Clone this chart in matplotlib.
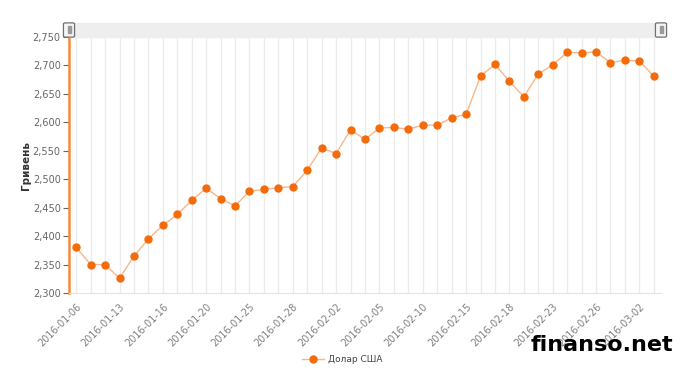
import numpy as np
import matplotlib.pyplot as plt
from matplotlib.patches import FancyBboxPatch, Rectangle

# exchange rate values, one per trading day
values = [2380, 2350, 2350, 2326, 2365, 2395, 2419, 2438, 2463, 2484,
          2466, 2453, 2479, 2482, 2485, 2487, 2516, 2555, 2545, 2587,
          2570, 2590, 2591, 2588, 2595, 2595, 2608, 2614, 2681, 2702,
          2672, 2645, 2685, 2701, 2723, 2722, 2724, 2705, 2709, 2708,
          2681]
tick_labels = ["2016-01-06", "2016-01-13", "2016-01-16", "2016-01-20",
               "2016-01-25", "2016-01-28", "2016-02-02", "2016-02-05",
               "2016-02-10", "2016-02-15", "2016-02-18", "2016-02-23",
               "2016-02-26", "2016-03-02"]
y_ticks = [2300, 2350, 2400, 2450, 2500, 2550, 2600, 2650, 2700, 2750]
series_name = "Долар США"
y_title = "Гривень"

x = np.arange(len(values))

fig = plt.figure(figsize=(6.88, 3.73), dpi=100)
ax = fig.add_axes([69/688, 80/373, 592/688, 256/373])

# light vertical grid at every point
for xi in x:
    ax.axvline(xi, color="#ebebeb", lw=0.9, zorder=0)

ax.plot(x, values, color="#f9b68a", lw=1.0, zorder=2)
ax.plot(x, values, "o", color="#f56b0a", markersize=5, zorder=3)

ax.set_xlim(-0.5, len(values) - 0.5)
ax.set_ylim(2300, 2750)
ax.set_yticks(y_ticks)
ax.set_yticklabels(["{:,}".format(v) for v in y_ticks])
ax.set_xticks(x[::3])
ax.set_xticklabels(tick_labels, rotation=45, ha="right", rotation_mode="anchor")

ax.tick_params(axis="y", colors="#666666", labelsize=7, length=4, width=0.8, pad=2)
ax.tick_params(axis="x", colors="#808080", labelsize=7, length=0, pad=6)

for s in ["top", "right"]:
    ax.spines[s].set_visible(False)
ax.spines["bottom"].set_color("#e3e3e3")
ax.spines["left"].set_color("#f58a3a")
ax.spines["left"].set_linewidth(1.8)

fig.text(26/688, 1 - 165/373, y_title, rotation=90, fontsize=7.5,
         fontweight="bold", color="#333333", ha="center", va="center")

# scrollbar band on top
fig.patches.append(Rectangle((69/688, 1 - 37/373), 592/688, 14/373,
                             transform=fig.transFigure, color="#eeeeee", zorder=0))
for hx in [69, 661]:
    fig.patches.append(FancyBboxPatch((hx/688 - 3.5/688, 1 - 36/373), 7/688, 12/373,
                                      boxstyle="round,pad=0.003",
                                      transform=fig.transFigure,
                                      facecolor="#f4f4f4", edgecolor="#707070", lw=0.9))
    fig.patches.append(Rectangle((hx/688 - 1.5/688, 1 - 33/373), 3/688, 7/373,
                                 transform=fig.transFigure, color="#9a9a9a"))

# legend
lx, ly = 313/688, 1 - 359/373
fig.lines.append(plt.Line2D([302/688, 324/688], [ly, ly], transform=fig.transFigure,
                            color="#f9b68a", lw=1.0))
fig.lines.append(plt.Line2D([lx], [ly], transform=fig.transFigure, marker="o",
                            color="#f56b0a", markersize=5))
fig.text(328/688, ly, series_name, fontsize=6.5, color="#444444", va="center")

# watermark
fig.text(673/688, 1 - 345/373, "finanso.net", fontsize=16, fontweight="bold",
         color="black", ha="right", va="center")

plt.savefig("out.png", dpi=100)
